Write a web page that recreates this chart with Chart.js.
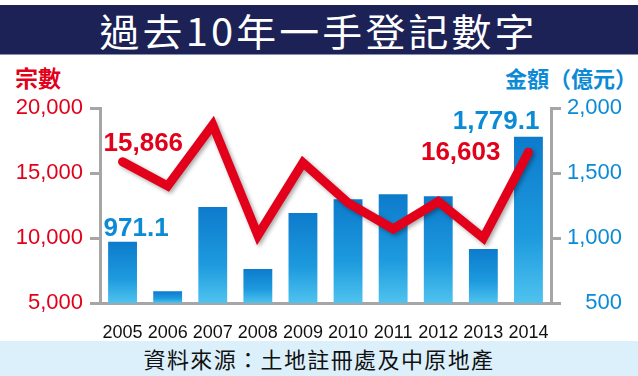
<!DOCTYPE html>
<html>
<head>
<meta charset="utf-8">
<script src="https://cdn.jsdelivr.net/npm/chart.js@4"></script>
<style>
  html, body { margin: 0; padding: 0; background: #fff; }
  #wrap { position: relative; width: 638px; height: 376px; overflow: hidden; font-family: 'Noto Sans CJK TC', sans-serif; }
  #title {
    position: absolute; left: 0; top: 5px; width: 638px; height: 49px;
    background: #1c2256; border-bottom: 1px solid #8a90b4;
    color: #fff; font-size: 38px; line-height: 49px; text-align: center; letter-spacing: 3px;
  }
  #title span { display: inline-block; transform: scaleX(1.05); }
  #footer {
    position: absolute; left: 0; top: 341px; width: 638px; height: 35px;
    background: #dcf0fb; color: #111; font-size: 22px; line-height: 35px; text-align: center; letter-spacing: 1.4px;
  }
  .axTitle { position: absolute; top: 62px; font-weight: bold; font-size: 23px; line-height: 30px; }
  #leftTitle { left: 15px; color: #e2001a; }
  #rightTitle { left: 505px; color: #0b8bd6; font-size: 22px; }
  canvas { position: absolute; left: 0; top: 0; }
</style>
</head>
<body>
<div id="wrap">
  <div id="title"><span>過去10年一手登記數字</span></div>
  <div class="axTitle" id="leftTitle">宗數</div>
  <div class="axTitle" id="rightTitle">金額（億元）</div>
  <canvas id="chart" width="638" height="376"></canvas>
  <div id="footer">資料來源：土地註冊處及中原地產</div>
</div>
<script>
// data
const years = ['2005', '2006', '2007', '2008', '2009', '2010', '2011', '2012', '2013', '2014'];
const amounts = [971.1, 590, 1238, 762, 1192, 1298, 1336, 1321, 915, 1779.1];      // 億元, bars
const counts = [15866, 14000, 18700, 10200, 15800, 12700, 10700, 12800, 10000, 16603]; // 宗數, line
const countTicks = [5000, 10000, 15000, 20000];
const amountTicks = [500, 1000, 1500, 2000];

const RED = '#e2001a';
const BLUE = '#0b8bd6';
const GREY = '#a6a6a6';

Chart.defaults.font.family = "'Liberation Sans', Arial, sans-serif";

function barGradient(ctx) {
  const chart = ctx.chart;
  const area = chart.chartArea;
  if (!area || ctx.dataIndex === undefined) return '#1a8ad8';
  const scale = chart.scales.y1;
  const top = scale.getPixelForValue(ctx.raw);
  const g = chart.ctx.createLinearGradient(0, top, 0, area.bottom);
  g.addColorStop(0, '#0d7bcc');
  g.addColorStop(0.6, '#1d9ade');
  g.addColorStop(1, '#4fc3ef');
  return g;
}

const lineShadow = {
  id: 'lineShadow',
  beforeDatasetDraw(chart, args) {
    if (args.index !== 1) return;
    const c = chart.ctx;
    c.save();
    c.shadowColor = 'rgba(0,0,0,0.35)';
    c.shadowBlur = 4;
    c.shadowOffsetX = 2;
    c.shadowOffsetY = 2;
  },
  afterDatasetDraw(chart, args) {
    if (args.index !== 1) return;
    chart.ctx.restore();
  }
};

const callouts = {
  id: 'callouts',
  afterDatasetsDraw(chart) {
    const c = chart.ctx;
    const bars = chart.getDatasetMeta(0).data;
    const pts = chart.getDatasetMeta(1).data;
    const last = years.length - 1;
    const fmt1 = v => v.toLocaleString('en-US', { minimumFractionDigits: 1 });
    const fmt0 = v => v.toLocaleString('en-US');
    c.save();
    c.font = "bold 26px 'Liberation Sans', Arial, sans-serif";
    c.textBaseline = 'middle';
    // first year
    c.fillStyle = RED;
    c.textAlign = 'left';
    c.fillText(fmt0(counts[0]), pts[0].x - 19, pts[0].y - 18);
    c.fillStyle = BLUE;
    c.fillText(fmt1(amounts[0]), bars[0].x - 19, bars[0].y - 13);
    // last year
    c.textAlign = 'right';
    c.fillText(fmt1(amounts[last]), bars[last].x + 11, bars[last].y - 15);
    c.fillStyle = RED;
    c.fillText(fmt0(counts[last]), pts[last].x - 28, pts[last].y + 1);
    c.restore();
  }
};

new Chart(document.getElementById('chart'), {
  data: {
    labels: years,
    datasets: [
      {
        type: 'bar',
        data: amounts,
        yAxisID: 'y1',
        order: 2,
        backgroundColor: barGradient,
        categoryPercentage: 1,
        barPercentage: 0.64
      },
      {
        type: 'line',
        data: counts,
        yAxisID: 'y',
        order: 1,
        borderColor: RED,
        borderWidth: 9,
        borderJoinStyle: 'miter',
        borderCapStyle: 'round',
        pointRadius: 0,
        tension: 0
      }
    ]
  },
  options: {
    responsive: false,
    animation: false,
    layout: { padding: { top: 108, right: 16, left: 0, bottom: 0 } },
    plugins: { legend: { display: false }, tooltip: { enabled: false } },
    scales: {
      x: {
        grid: { display: false },
        border: { color: GREY, width: 3 },
        ticks: {
          color: '#111',
          padding: 11,
          maxRotation: 0,
          autoSkip: false,
          font: { size: 18 }
        },
        afterFit: s => { s.height = 73; }
      },
      y: {
        position: 'left',
        min: 5000,
        max: 20000,
        afterBuildTicks: s => { s.ticks = countTicks.map(v => ({ value: v })); },
        grid: { drawOnChartArea: false, color: GREY, lineWidth: 3, tickLength: 10 },
        border: { color: GREY, width: 3 },
        ticks: {
          color: RED,
          padding: 7,
          font: { size: 22 },
          callback: v => v.toLocaleString('en-US')
        },
        afterFit: s => { s.width = 100; }
      },
      y1: {
        position: 'right',
        min: 500,
        max: 2000,
        afterBuildTicks: s => { s.ticks = amountTicks.map(v => ({ value: v })); },
        grid: { drawOnChartArea: false, color: GREY, lineWidth: 3, tickLength: 10 },
        border: { color: GREY, width: 3 },
        ticks: {
          color: BLUE,
          padding: 6,
          crossAlign: 'far',
          font: { size: 22 },
          callback: v => v.toLocaleString('en-US')
        },
        afterFit: s => { s.width = 71; }
      }
    }
  },
  plugins: [lineShadow, callouts]
});
</script>
</body>
</html>
